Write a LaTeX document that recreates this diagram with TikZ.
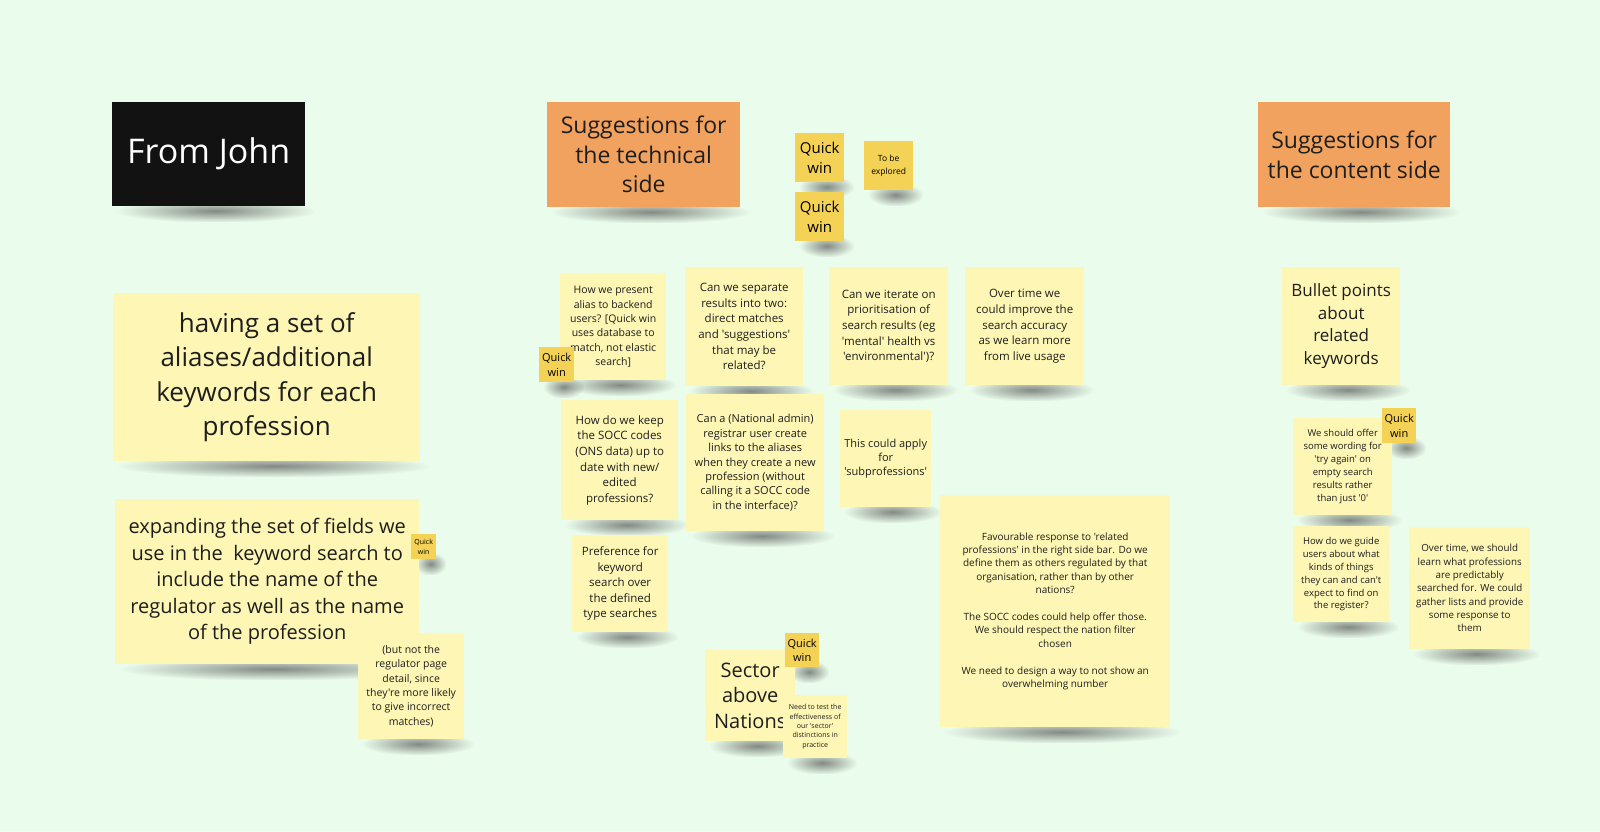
\documentclass[tikz,border=0pt]{standalone}
\usepackage{fontspec}
\setmainfont{Open Sans}[Ligatures=TeXOff]
\usetikzlibrary{positioning, fadings}
\pgfdeclarelayer{background}
\pgfsetlayers{background,main}
\definecolor{board}{RGB}{234,252,235}
\definecolor{paper}{RGB}{254,246,180}
\definecolor{tagyellow}{RGB}{243,210,85}
\definecolor{tangerine}{RGB}{241,162,94}
\definecolor{jet}{RGB}{18,18,18}
\definecolor{ink}{RGB}{30,30,30}
\newcommand{\Fs}[2]{\fontsize{#1}{#2}\selectfont}
\tikzfading[name=dropfade, inner color=transparent!35, outer color=transparent!100]
\tikzset{
    wh/.style 2 args={minimum width=#1pt, minimum height=#2pt},
    sticky/.style={rectangle, anchor=north west, align=center, inner sep=1pt, text=ink, fill=paper},
    header/.style={sticky, fill=tangerine, font=\Fs{23}{29.5}},
    tag/.style={sticky, fill=tagyellow, text=black},
    small/.style={font=\Fs{10.5}{14.3}},
    medium/.style={font=\Fs{11.5}{15.6}},
    dropshadow/.style={fill=black!70, path fading=dropfade},
}

\begin{document}
\begin{tikzpicture}[x=1pt, y=-1pt]
    \begin{pgfonlayer}{background}
    \fill[board] (0,0) rectangle (1600,831);
    \end{pgfonlayer}
    \useasboundingbox (0,0) rectangle (1600,831);

    % titles
    \node[sticky, fill=jet, text=white, wh={193}{104}, font=\Fs{34}{40}] (john) at (112,102) {From John};
    \node[header, wh={193}{105}] (techside) at (547,102) {Suggestions for\\the technical\\side};
    \node[header, wh={192}{105}] (contentside) at (1258,102) {Suggestions for\\the content side};

    % legend
    \node[tag, wh={49}{49}, font=\Fs{15}{20}] (qwA) at (795,133) {Quick\\win};
    \node[tag, wh={49}{49}, font=\Fs{15}{20}] (qwB) at (795,192) {Quick\\win};
    \node[tag, wh={49}{49}, font=\Fs{8.5}{12.5}] (explore) at (864,141) {To be\\explored};

    % from John
    \node[sticky, wh={307}{168}, font=\Fs{26}{34.5}] (aliases) at (113,293)
        {having a set of\\aliases/additional\\keywords for each\\profession};
    \node[sticky, wh={304}{165}, font=\Fs{20}{26.5}] (fields) at (115,499)
        {expanding the set of fields we\\use in the\ \ keyword search to\\include the name of the\\regulator as well as the name\\of the profession};
    \node[tag, wh={25}{25}, font=\Fs{7}{10}] (qwfields) at (411,534) {Quick\\win};
    \node[sticky, small, wh={106}{106}] (notdetail) at (358,633)
        {(but not the\\regulator page\\detail, since\\they're more likely\\to give incorrect\\matches)};

    % technical side
    \node[sticky, small, wh={106}{107}] (present) at (560,273)
        {How we present\\alias to backend\\users? [Quick win\\uses database to\\match, not elastic\\search]};
    \node[tag, wh={35}{35}, font=\Fs{11}{14.3}] (qwpresent) at (539,347) {Quick\\win};
    \node[sticky, medium, wh={118}{119}] (separate) at (685,267)
        {Can we separate\\results into two:\\direct matches\\and 'suggestions'\\that may be\\related?};
    \node[sticky, medium, wh={119}{118}] (iterate) at (829,267)
        {Can we iterate on\\prioritisation of\\search results (eg\\'mental' health vs\\'environmental')?};
    \node[sticky, medium, wh={119}{118}] (overtime) at (965,267)
        {Over time we\\could improve the\\search accuracy\\as we learn more\\from live usage};
    \node[sticky, medium, wh={117}{120}] (keep) at (561,400)
        {How do we keep\\the SOCC codes\\(ONS data) up to\\date with new/\\edited\\professions?};
    \node[sticky, wh={138}{137}, font=\Fs{11}{14.4}] (national) at (686,394)
        {Can a (National admin)\\registrar user create\\links to the aliases\\when they create a new\\profession (without\\calling it a SOCC code\\in the interface)?};
    \node[sticky, wh={91}{97}, font=\Fs{11}{14.3}] (subprof) at (840,410)
        {This could apply\\for\\'subprofessions'};
    \node[sticky, wh={230}{232}, font=\Fs{10}{13.4}] (related) at (940,495)
        {Favourable response to 'related\\professions' in the right side bar. Do we\\define them as others regulated by that\\organisation, rather than by other\\nations?\\[13.4pt]The SOCC codes could help offer those.\\We should respect the nation filter\\chosen\\[13.4pt]We need to design a way to not show an\\overwhelming number};
    \node[sticky, medium, wh={96}{97}] (preference) at (572,535)
        {Preference for\\keyword\\search over\\the defined\\type searches};
    \node[sticky, wh={90}{91}, font=\Fs{20}{25.5}] (sector) at (705,650) {Sector\\above\\Nations};
    \node[tag, wh={34}{34}, font=\Fs{11}{14}] (qwsector) at (785,633) {Quick\\win};
    \node[sticky, wh={64}{63}, font=\Fs{7}{9.3}] (needtest) at (783,695)
        {Need to test the\\effectiveness of\\our 'sector'\\distinctions in\\practice};

    % content side
    \node[sticky, wh={118}{118}, font=\Fs{17}{22.7}] (bullets) at (1282,267)
        {Bullet points\\about\\related\\keywords};
    \node[sticky, wh={99}{97}, font=\Fs{9.5}{12.9}] (tryagain) at (1293,418)
        {We should offer\\some wording for\\'try again' on\\empty search\\results rather\\than just '0'};
    \node[tag, wh={34}{35}, font=\Fs{11}{14.3}] (qwtry) at (1382,408) {Quick\\win};
    \node[sticky, wh={96}{96}, font=\Fs{9.5}{12.9}] (guide) at (1293,526)
        {How do we guide\\users about what\\kinds of things\\they can and can't\\expect to find on\\the register?};
    \node[sticky, wh={121}{122}, font=\Fs{9.8}{13.3}] (predict) at (1409,527)
        {Over time, we should\\learn what professions\\are predictably\\searched for. We could\\gather lists and provide\\some response to\\them};

    % soft shadows under every note
    \begin{pgfonlayer}{background}
    \foreach \n in {john, techside, contentside, qwA, qwB, explore, aliases, fields, qwfields,
        notdetail, present, qwpresent, separate, iterate, overtime, keep, national, subprof,
        related, preference, sector, qwsector, needtest, bullets, tryagain, qwtry, guide, predict}
        \fill[dropshadow] ([xshift=4pt, yshift=7pt]\n.south west) rectangle ([xshift=10pt, yshift=-16pt]\n.south east);
    \end{pgfonlayer}
\end{tikzpicture}
\end{document}
